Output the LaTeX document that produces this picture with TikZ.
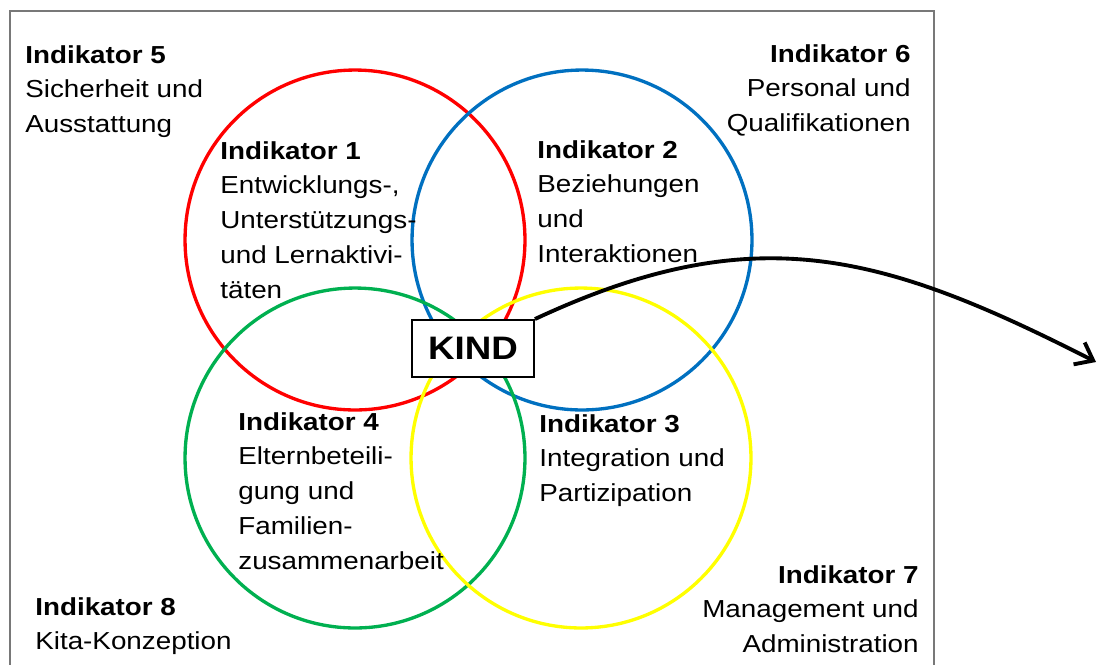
\documentclass[tikz,border=0pt]{standalone}
\usepackage{fontspec}
\setmainfont{Liberation Sans}[FakeStretch=1.13]
\usetikzlibrary{arrows.meta}

\definecolor{ringred}{RGB}{255,0,0}
\definecolor{ringblue}{RGB}{0,112,192}
\definecolor{ringgreen}{RGB}{0,176,80}
\definecolor{ringyellow}{RGB}{255,255,0}
\definecolor{framegray}{RGB}{120,120,120}

\tikzset{
	ring/.style={line width=1.9pt},
	indtext/.style={inner sep=0pt, font=\fontsize{14}{19.8}\selectfont},
	kindbox/.style={draw, fill=white, line width=1.1pt, inner sep=0pt,
		minimum width=2.44cm, minimum height=1.14cm,
		font=\fontsize{18.5}{22}\selectfont\bfseries},
	pointer/.style={line width=2.2pt, -{Straight Barb[length=9pt,width=14pt]}}
}

\begin{document}
\begin{tikzpicture}[x=0.02cm,y=-0.02cm]
	\useasboundingbox (0,0) rectangle (1098,664);

	\path
	(355,240) coordinate (C1)
	(582,240) coordinate (C2)
	(581,458) coordinate (C3)
	(355,458) coordinate (C4)
	(1096,362) coordinate (T);

	% frame
	\draw[framegray, line width=0.9pt] (10,11) rectangle (934,700);

	% circles
	\draw[ring, ringred]    (C1) circle[radius=3.4cm];
	\draw[ring, ringblue]   (C2) circle[radius=3.4cm];
	\draw[ring, ringgreen]  (C4) circle[radius=3.4cm];
	\draw[ring, ringyellow] (C3) circle[radius=3.4cm];

	\node[kindbox] (kind) at (473,348.5) {KIND};

	\draw[pointer] (kind.north east) to[out=25, in=153, looseness=1.1] (T);

	% texts
	\node[indtext, anchor=north west, align=left] (ind5) at (25,45)
	{\textbf{Indikator 5}\\Sicherheit und\\Ausstattung};
	\node[indtext, anchor=north east, align=right] (ind6) at (911,44)
	{\textbf{Indikator 6}\\Personal und\\Qualifikationen};
	\node[indtext, anchor=north west, align=left] (ind1) at (220,141)
	{\textbf{Indikator 1}\\Entwicklungs-,\\Unterstützungs-\\und Lernaktivi-\\täten};
	\node[indtext, anchor=north west, align=left] (ind2) at (537,140)
	{\textbf{Indikator 2}\\Beziehungen\\und\\Interaktionen};
	\node[indtext, anchor=north west, align=left] (ind4) at (238,412)
	{\textbf{Indikator 4}\\Elternbeteili-\\gung und\\Familien-\\zusammenarbeit};
	\node[indtext, anchor=north west, align=left] (ind3) at (539,414)
	{\textbf{Indikator 3}\\Integration und\\Partizipation};
	\node[indtext, anchor=north east, align=right] (ind7) at (919,565)
	{\textbf{Indikator 7}\\Management und\\Administration};
	\node[indtext, anchor=north west, align=left] (ind8) at (35,597)
	{\textbf{Indikator 8}\\Kita-Konzeption};
\end{tikzpicture}
\end{document}
